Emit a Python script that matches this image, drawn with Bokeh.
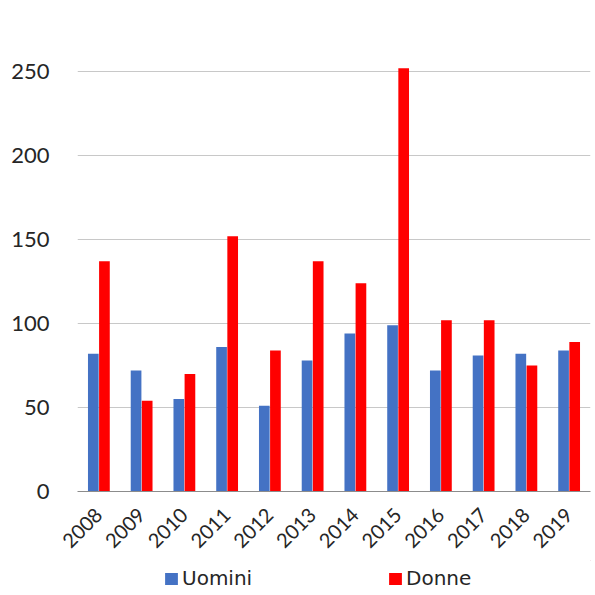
from math import pi
from bokeh.plotting import figure
from bokeh.layouts import column
from bokeh.models import ColumnDataSource, Range1d, Legend, LegendItem, FixedTicker
from bokeh.transform import dodge
from bokeh.embed import file_html
from bokeh.resources import INLINE

years = ["2008", "2009", "2010", "2011", "2012", "2013", "2014", "2015", "2016", "2017", "2018", "2019"]
uomini = [82, 72, 55, 86, 51, 78, 94, 99, 72, 81, 82, 84]
donne = [137, 54, 70, 152, 84, 137, 124, 252, 102, 102, 75, 89]
y_ticks = [0, 50, 100, 150, 200, 250]
series_names = ["Uomini", "Donne"]
series_colors = ["#4472C4", "#FF0000"]

src = ColumnDataSource(dict(years=years, uomini=uomini, donne=donne))

p = figure(x_range=years, y_range=Range1d(0, 275), width=595, height=560,
           output_backend="svg", toolbar_location=None,
           min_border_left=77, min_border_right=5, min_border_top=29, min_border_bottom=69)

p.vbar(x=dodge("years", -0.13, range=p.x_range), top="uomini", width=0.25,
       source=src, fill_color=series_colors[0], line_color=None)
p.vbar(x=dodge("years", 0.13, range=p.x_range), top="donne", width=0.25,
       source=src, fill_color=series_colors[1], line_color=None)

p.outline_line_color = None
p.xgrid.grid_line_color = None
p.ygrid.grid_line_color = "#c8c8c8"
p.ygrid.grid_line_width = 1
p.yaxis.ticker = FixedTicker(ticks=y_ticks)
p.yaxis.axis_line_color = None
p.yaxis.major_tick_line_color = None
p.yaxis.minor_tick_line_color = None
p.yaxis.major_label_text_font = "Lato"
p.yaxis.major_label_text_font_size = "22px"
p.yaxis.major_label_text_color = "#262626"
p.yaxis.major_label_standoff = 22

p.xaxis.axis_line_color = "#8c8c8c"
p.xaxis.major_tick_line_color = None
p.xaxis.minor_tick_line_color = None
p.xaxis.major_label_orientation = pi / 4
p.xaxis.major_label_text_font = "Lato"
p.xaxis.major_label_text_font_size = "20px"
p.xaxis.major_label_text_color = "#262626"
p.xaxis.major_label_standoff = 14
p.x_range.range_padding = 0.0

# legend row
lg = figure(width=595, height=35, output_backend="svg", toolbar_location=None,
            x_range=Range1d(0, 1), y_range=Range1d(0, 1),
            min_border=0, x_axis_type=None, y_axis_type=None)
lg.outline_line_color = None
lg.xgrid.grid_line_color = None
lg.ygrid.grid_line_color = None
hidden = ColumnDataSource(dict(x=[50], top=[60]))
for name, color, xpos in zip(series_names, series_colors, [86, 310]):
    r = lg.vbar(x="x", top="top", bottom=55, width=1, source=hidden,
                fill_color=color, line_color=None)
    leg = Legend(items=[LegendItem(label=name, renderers=[r])],
                 location=(xpos, 5), label_text_font="DejaVu Sans",
                 label_text_font_size="20px", label_text_color="#262626",
                 glyph_width=16, glyph_height=15, label_standoff=3,
                 border_line_color=None, background_fill_alpha=0, padding=0, margin=0)
    lg.add_layout(leg, "center")

layout = column(p, lg, spacing=0)
open("out.html", "w").write(file_html(layout, INLINE))
